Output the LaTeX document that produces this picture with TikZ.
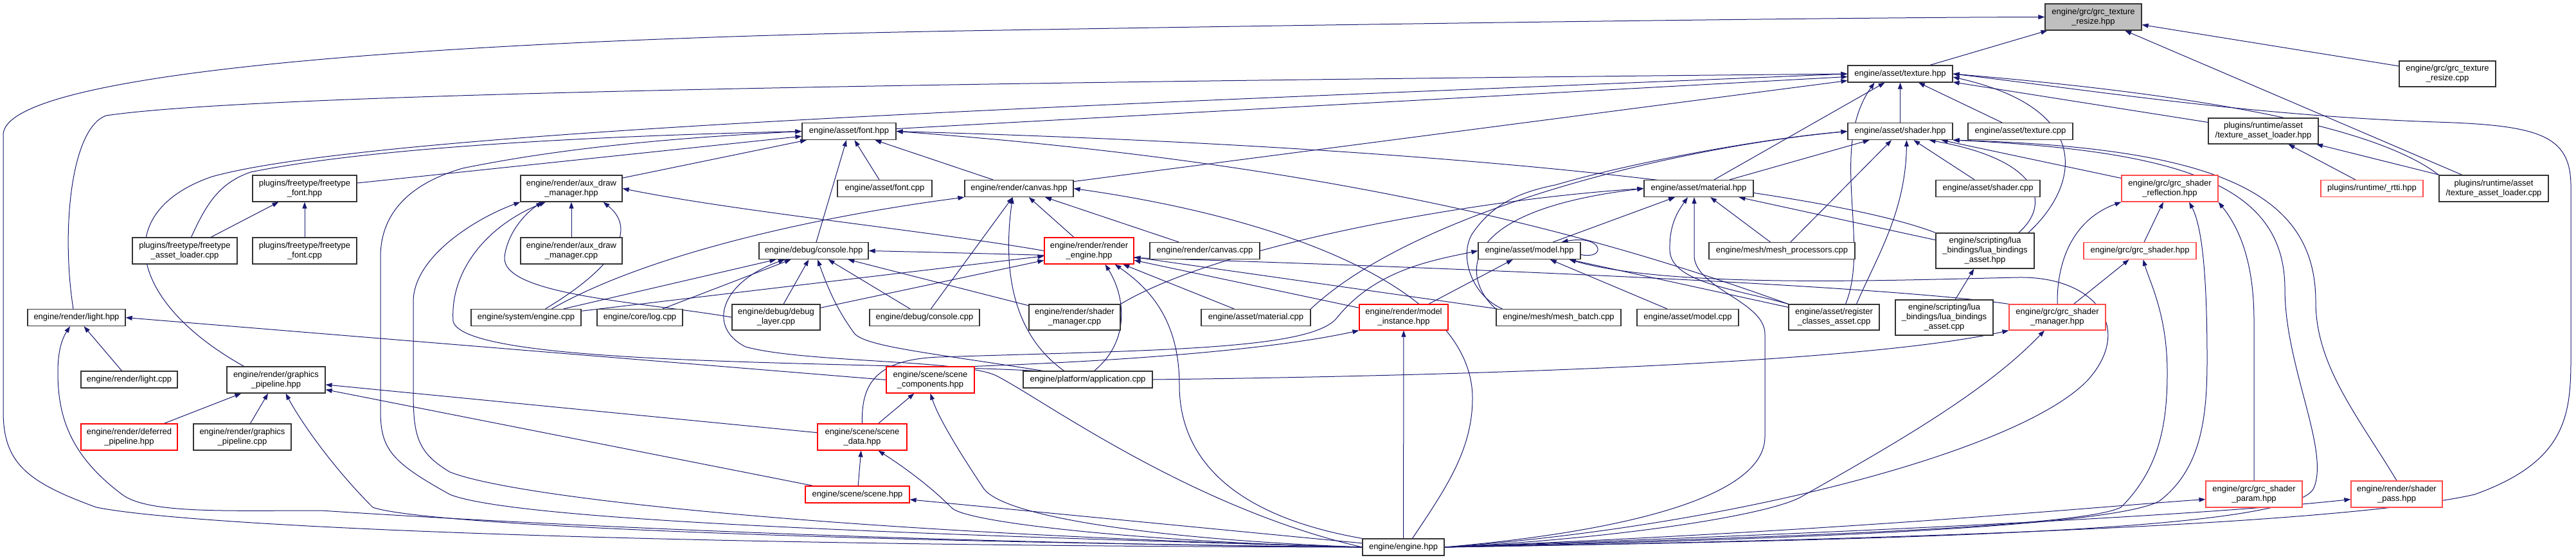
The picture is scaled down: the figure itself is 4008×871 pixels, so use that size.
\documentclass[tikz,border=0pt]{standalone}
\usepackage{fontspec}
\setmainfont{Liberation Sans}
\usepackage{xcolor}
\usepackage{tikz}
\usetikzlibrary{arrows.meta,backgrounds}
\definecolor{edgeblue}{HTML}{191970}
\definecolor{rootgray}{HTML}{BFBFBF}
\definecolor{hotred}{HTML}{FF0000}
\definecolor{softred}{HTML}{FF4A4A}
\begin{document}
\begin{tikzpicture}[
    x=1pt, y=-1pt,
    hdr/.style={draw=black!80, line width=1.2pt, fill=white, inner sep=0pt, align=center, minimum height=26pt, font=\fontsize{13}{15}\selectfont},
    hot/.style={hdr, draw=hotred},
    soft/.style={hdr, draw=softred},
    root/.style={hdr, fill=rootgray},
    dep/.style={draw=edgeblue, line width=1pt, -{Triangle[length=10pt,width=7pt]}}
]
\useasboundingbox (0,0) rectangle (4008,871);
% rows from top to bottom
\node[root, minimum width=150pt, minimum height=41pt] (resize) at (3257,26.5) {engine/grc/grc\_texture\\\_resize.hpp};
\node[hdr, minimum width=163pt] (texh) at (2956.5,115) {engine/asset/texture.hpp};
\node[hdr, minimum width=150pt, minimum height=40pt] (resizec) at (3808,115) {engine/grc/grc\_texture\\\_resize.cpp};
\node[hdr, minimum width=146pt] (fonth) at (1321,204.5) {engine/asset/font.hpp};
\node[hdr, minimum width=163pt] (shaderh) at (2956.5,204.5) {engine/asset/shader.hpp};
\node[hdr, minimum width=163pt] (texc) at (3143.5,204.5) {engine/asset/texture.cpp};
\node[hdr, minimum width=171pt, minimum height=40pt] (talh) at (3521.5,204) {plugins/runtime/asset\\/texture\_asset\_loader.hpp};
\node[hdr, minimum width=162pt, minimum height=41pt] (ftfonth) at (474,293.5) {plugins/freetype/freetype\\\_font.hpp};
\node[hdr, minimum width=158pt, minimum height=41pt] (auxh) at (889,293.5) {engine/render/aux\_draw\\\_manager.hpp};
\node[hdr, minimum width=147pt] (fontc) at (1376.5,293.5) {engine/asset/font.cpp};
\node[hdr, minimum width=169pt] (canvash) at (1585.5,293.5) {engine/render/canvas.hpp};
\node[hdr, minimum width=170pt] (materialh) at (2643,293.5) {engine/asset/material.hpp};
\node[hdr, minimum width=162pt] (shaderc) at (3093,293.5) {engine/asset/shader.cpp};
\node[soft, minimum width=150pt, minimum height=41pt] (reflh) at (3376,293.5) {engine/grc/grc\_shader\\\_reflection.hpp};
\node[soft, minimum width=159pt] (rttih) at (3690.5,293.5) {plugins/runtime/\_rtti.hpp};
\node[hdr, minimum width=170pt, minimum height=41pt] (talc) at (3880,293.5) {plugins/runtime/asset\\/texture\_asset\_loader.cpp};
\node[hdr, minimum width=163pt, minimum height=41pt] (ftloaderc) at (287.5,390.5) {plugins/freetype/freetype\\\_asset\_loader.cpp};
\node[hdr, minimum width=162pt, minimum height=41pt] (ftfontc) at (474,390.5) {plugins/freetype/freetype\\\_font.cpp};
\node[hdr, minimum width=158pt, minimum height=41pt] (auxc) at (889,390.5) {engine/render/aux\_draw\\\_manager.cpp};
\node[hdr, minimum width=170pt] (consoleh) at (1266,390.5) {engine/debug/console.hpp};
\node[hot, minimum width=139pt, minimum height=41pt] (renderh) at (1694.5,390.5) {engine/render/render\\\_engine.hpp};
\node[hdr, minimum width=171pt] (canvasc) at (1874.5,390.5) {engine/render/canvas.cpp};
\node[hdr, minimum width=159pt] (modelh) at (2379.5,390.5) {engine/asset/model.hpp};
\node[hdr, minimum width=227pt] (meshprocc) at (2772.5,390.5) {engine/mesh/mesh\_processors.cpp};
\node[hdr, minimum width=153pt, minimum height=55pt] (luah) at (3088.5,390.5) {engine/scripting/lua\\\_bindings/lua\_bindings\\\_asset.hpp};
\node[soft, minimum width=175pt] (grcshaderh) at (3329.5,390.5) {engine/grc/grc\_shader.hpp};
\node[hdr, minimum width=152pt] (lighth) at (119,494.5) {engine/render/light.hpp};
\node[hdr, minimum width=171pt] (enginec) at (818.5,494.5) {engine/system/engine.cpp};
\node[hdr, minimum width=133pt] (logc) at (995.5,494.5) {engine/core/log.cpp};
\node[hdr, minimum width=137pt, minimum height=40pt] (debugc) at (1207.5,494) {engine/debug/debug\\\_layer.cpp};
\node[hdr, minimum width=171pt] (consolec) at (1438.5,494.5) {engine/debug/console.cpp};
\node[hdr, minimum width=142pt, minimum height=40pt] (shmgrc) at (1672,494) {engine/render/shader\\\_manager.cpp};
\node[hdr, minimum width=170pt] (materialc) at (1954,494.5) {engine/asset/material.cpp};
\node[hot, minimum width=138pt, minimum height=40pt] (instanceh) at (2184,494) {engine/render/model\\\_instance.hpp};
\node[hdr, minimum width=194pt] (batchc) at (2425,494.5) {engine/mesh/mesh\_batch.cpp};
\node[hdr, minimum width=158pt] (modelc) at (2626,494.5) {engine/asset/model.cpp};
\node[hdr, minimum width=141pt, minimum height=40pt] (registerc) at (2853.5,494) {engine/asset/register\\\_classes\_asset.cpp};
\node[hdr, minimum width=152pt, minimum height=55pt] (luac) at (3025,494.5) {engine/scripting/lua\\\_bindings/lua\_bindings\\\_asset.cpp};
\node[soft, minimum width=150pt, minimum height=40pt] (grcmgrh) at (3201,494) {engine/grc/grc\_shader\\\_manager.hpp};
\node[hdr, minimum width=150pt] (lightc) at (201,591) {engine/render/light.cpp};
\node[hdr, minimum width=153pt, minimum height=41pt] (pipeh) at (429.5,591.5) {engine/render/graphics\\\_pipeline.hpp};
\node[hot, minimum width=137pt, minimum height=41pt] (componentsh) at (1447.5,591.5) {engine/scene/scene\\\_components.hpp};
\node[hdr, minimum width=201pt] (appc) at (1692.5,591) {engine/platform/application.cpp};
\node[hot, minimum width=150pt, minimum height=41pt] (deferredh) at (201,680.5) {engine/render/deferred\\\_pipeline.hpp};
\node[hdr, minimum width=152pt, minimum height=41pt] (pipec) at (377,680.5) {engine/render/graphics\\\_pipeline.cpp};
\node[hot, minimum width=139pt, minimum height=41pt] (scenedatah) at (1341.5,680.5) {engine/scene/scene\\\_data.hpp};
\node[hot, minimum width=162pt] (sceneh) at (1334,770) {engine/scene/scene.hpp};
\node[soft, minimum width=150pt, minimum height=41pt] (paramh) at (3507,769.5) {engine/grc/grc\_shader\\\_param.hpp};
\node[soft, minimum width=142pt, minimum height=41pt] (passh) at (3729,769.5) {engine/render/shader\\\_pass.hpp};
\node[hdr, minimum width=127pt] (engineh) at (2183.5,852) {engine/engine.hpp};
\begin{scope}[on background layer]
% root
\draw[dep] (texh) -- (resize);
\draw[dep] (resizec) -- (resize);
\draw[dep] (talc) -- (resize);
\draw[dep] (engineh.west) .. controls (1000,850) and (300,820) .. (150,790) .. controls (40,750) and (5,720) .. (5,640) -- (5,210) .. controls (5,110) and (700,62) .. (1500,48) .. controls (2200,36) and (2900,27) .. (resize.west);
% texture.hpp
\draw[dep] (shaderh) -- (texh);
\draw[dep] (texc) -- (texh);
\draw[dep] (talh) -- (texh);
\draw[dep] (fonth) -- (texh);
\draw[dep] (canvash) -- (texh);
\draw[dep] (materialh) -- (texh);
\draw[dep] (talc.north west) .. controls (3700,200) and (3450,150) .. (texh.east);
\draw[dep] ([xshift=18pt]registerc.north) .. controls (2910,380) and (2845,230) .. ([xshift=-40pt]texh.south);
\draw[dep] ([xshift=-10pt]luah.north east) .. controls (3235,290) and (3260,170) .. ([yshift=-5pt]texh.east);
\draw[dep] ([xshift=-5pt]lighth.north) .. controls (95,360) and (110,200) .. (165,180) .. controls (400,145) and (1500,128) .. (texh.west);
\draw[dep] ([xshift=-50pt]pipeh.north) .. controls (200,470) and (170,330) .. (330,275) .. controls (600,200) and (1800,160) .. (texh.west);
\draw[dep] (engineh.east) .. controls (3000,840) and (3650,815) .. (3850,770) .. controls (3990,720) and (4000,650) .. (4000,560) -- (4000,290) .. controls (4000,210) and (3950,195) .. (3790,190) .. controls (3500,180) and (3250,140) .. (texh.east);
\draw[dep] (talc) -- (talh);
\draw[dep] (rttih) -- (talh);
% font.hpp
\draw[dep] (ftfonth) -- (fonth);
\draw[dep] ([xshift=10pt]ftloaderc.north) .. controls (320,320) and (340,285) .. (390,268) .. controls (600,225) and (1000,210) .. (fonth.west);
\draw[dep] (auxh) -- (fonth);
\draw[dep] (fontc) -- (fonth);
\draw[dep] (canvash) -- (fonth);
\draw[dep] (consoleh) -- (fonth);
\draw[dep] (engineh.west) .. controls (1400,832) and (800,810) .. (700,770) .. controls (610,720) and (592,700) .. (592,640) -- (592,400) .. controls (592,330) and (640,285) .. (720,262) .. controls (900,225) and (1100,212) .. (fonth.west);
\draw[dep] (registerc.north west) .. controls (2550,390) and (2150,260) .. (fonth.east);
\draw[dep] (luah.north west) .. controls (2850,300) and (2300,230) .. (fonth.east);
\draw[dep] (ftloaderc) -- (ftfonth);
\draw[dep] (ftfontc) -- (ftfonth);
% aux_draw_manager.hpp
\draw[dep] (auxc) -- (auxh);
\draw[dep] ([xshift=30pt]enginec.north) .. controls (950,420) and (995,360) .. ([xshift=-30pt]auxh.south east);
\draw[dep] (debugc.west) .. controls (1000,470) and (780,460) .. (785,400) .. controls (790,360) and (820,330) .. ([xshift=-45pt]auxh.south);
\draw[dep] ([xshift=-80pt]appc.north) .. controls (1300,562) and (720,570) .. (705,500) .. controls (700,420) and (760,350) .. ([xshift=-40pt]auxh.south);
\draw[dep] (engineh.west) .. controls (1300,830) and (800,775) .. (700,735) .. controls (650,705) and (643,680) .. (643,610) -- (643,470) .. controls (643,400) and (740,340) .. (auxh.south west);
\draw[dep] (renderh.west) .. controls (1450,360) and (1150,330) .. (auxh.east);
% canvas.hpp
\draw[dep] ([xshift=40pt]enginec.north) .. controls (1000,400) and (1250,340) .. (canvash.south west);
\draw[dep] (consolec) -- (canvash);
\draw[dep] ([xshift=-37pt]appc.north) .. controls (1575,520) and (1560,420) .. ([xshift=-10pt]canvash.south);
\draw[dep] (renderh) -- (canvash);
\draw[dep] (canvasc) -- (canvash);
\draw[dep] ([xshift=14pt]engineh.north) .. controls (2250,760) and (2291,700) .. (2291,620) .. controls (2291,450) and (2000,340) .. (canvash.east);
% console.hpp
\draw[dep] (enginec) -- (consoleh);
\draw[dep] (logc) -- (consoleh);
\draw[dep] (debugc) -- (consoleh);
\draw[dep] (consolec) -- (consoleh);
\draw[dep] (shmgrc) -- (consoleh);
\draw[dep] ([xshift=-70pt]appc.north) .. controls (1450,550) and (1350,540) .. (1330,520) .. controls (1300,480) and (1285,440) .. ([xshift=6pt]consoleh.south);
\draw[dep] (engineh.west) .. controls (1850,790) and (1620,620) .. (1550,585) .. controls (1500,560) and (1250,565) .. (1160,540) .. controls (1100,510) and (1120,440) .. ([xshift=-45pt]consoleh.south);
\draw[dep] (grcmgrh.north west) .. controls (2900,440) and (2000,405) .. (consoleh.east);
% render_engine.hpp
\draw[dep] (enginec) -- (renderh);
\draw[dep] (debugc) -- (renderh);
\draw[dep] ([xshift=10pt]appc.north) .. controls (1760,530) and (1750,460) .. ([xshift=25pt]renderh.south);
\draw[dep] (engineh.north west) .. controls (1900,800) and (1835,700) .. (1835,600) .. controls (1835,500) and (1790,450) .. ([xshift=40pt]renderh.south);
\draw[dep] (materialc) -- (renderh);
\draw[dep] (instanceh) -- (renderh);
\draw[dep] (batchc) -- (renderh);
% model.hpp
\draw[dep] ([yshift=-6pt]modelh.east) .. controls (2500,405) and (2495,365) .. ([xshift=-30pt]modelh.north east);
\draw[dep] (modelc) -- (modelh);
\draw[dep] (registerc) -- (modelh);
\draw[dep] (instanceh) -- (modelh);
\draw[dep] (engineh.east) .. controls (2700,820) and (3150,700) .. (3250,590) .. controls (3320,510) and (3260,430) .. (3140,432) .. controls (2950,436) and (2600,450) .. ([xshift=-18pt]modelh.south east);
\draw[dep] (scenedatah.north) .. controls (1340,600) and (1360,560) .. (1460,556) .. controls (1800,545) and (2040,545) .. (2080,495) .. controls (2140,420) and (2230,405) .. (modelh.west);
% material.hpp
\draw[dep] (modelh) -- (materialh);
\draw[dep] (batchc.north west) .. controls (2280,440) and (2250,330) .. (materialh.west);
\draw[dep] (shmgrc.north east) .. controls (1900,380) and (2300,310) .. (materialh.west);
\draw[dep] (meshprocc) -- (materialh);
\draw[dep] (registerc.north west) .. controls (2700,450) and (2600,440) .. (2598,390) .. controls (2597,350) and (2610,330) .. ([xshift=-17pt]materialh.south);
\draw[dep] (luah) -- (materialh);
\draw[dep] (engineh.east) .. controls (2500,830) and (2746,780) .. (2746,680) -- (2746,520) .. controls (2746,470) and (2640,450) .. (2636,400) -- ([xshift=-7pt]materialh.south);
% shader.hpp
\draw[dep] (materialh) -- (shaderh);
\draw[dep] (meshprocc) -- (shaderh);
\draw[dep] ([xshift=35pt]registerc.north) .. controls (2920,400) and (2965,330) .. ([xshift=10pt]shaderh.south);
\draw[dep] (shaderc) -- (shaderh);
\draw[dep] ([xshift=-25pt]luah.north east) .. controls (3190,320) and (3180,250) .. ([xshift=45pt]shaderh.south);
\draw[dep] (reflh) -- (shaderh);
\draw[dep] (engineh.east) .. controls (3000,840) and (3570,825) .. (3600,760) .. controls (3625,700) and (3555,570) .. (3555,450) .. controls (3555,290) and (3400,235) .. (shaderh.south east);
\draw[dep] (passh.north) .. controls (3670,650) and (3603,570) .. (3603,470) .. controls (3603,300) and (3450,230) .. (shaderh.south east);
\draw[dep] (materialc.north east) .. controls (2200,330) and (2600,230) .. (shaderh.west);
\draw[dep] ([xshift=10pt]batchc.north west) .. controls (2290,460) and (2270,400) .. (2290,365) .. controls (2320,320) and (2360,300) .. (2420,288) .. controls (2550,250) and (2750,215) .. (shaderh.west);
\draw[dep] (luac) -- (luah);
% grc_shader_reflection.hpp
\draw[dep] (grcmgrh.north) .. controls (3200,400) and (3230,340) .. (reflh.south west);
\draw[dep] (grcshaderh) -- (reflh);
\draw[dep] (engineh.east) .. controls (2900,838) and (3300,815) .. (3360,780) .. controls (3425,730) and (3434,650) .. (3434,560) .. controls (3434,420) and (3425,350) .. ([xshift=30pt]reflh.south);
\draw[dep] (paramh.north) -- (3507,500) .. controls (3507,400) and (3480,350) .. (reflh.south east);
% grc_shader.hpp
\draw[dep] (grcmgrh) -- (grcshaderh);
\draw[dep] (engineh.east) .. controls (2800,836) and (3240,820) .. (3300,790) .. controls (3360,730) and (3372,660) .. (3372,580) .. controls (3372,490) and (3345,440) .. ([xshift=5pt]grcshaderh.south);
% grc_shader_manager.hpp
\draw[dep] (appc.east) .. controls (2300,585) and (2900,565) .. (grcmgrh.south west);
\draw[dep] (engineh.east) .. controls (2500,840) and (2740,805) .. (2800,775) .. controls (2950,690) and (3090,610) .. ([xshift=-20pt]grcmgrh.south);
% model_instance.hpp
\draw[dep] (componentsh.north east) .. controls (1800,560) and (2000,540) .. (instanceh.south west);
\draw[dep] (engineh) -- (instanceh);
% scene_components.hpp
\draw[dep] (scenedatah) -- (componentsh);
\draw[dep] (engineh.west) .. controls (1800,840) and (1560,805) .. (1530,760) .. controls (1490,700) and (1460,650) .. (componentsh.south);
% light.hpp
\draw[dep] (componentsh.west) -- (lighth.east);
\draw[dep] (lightc) -- (lighth);
\draw[dep] (engineh.west) .. controls (1300,845) and (650,805) .. (500,795) .. controls (350,795) and (230,800) .. (190,770) .. controls (110,710) and (90,650) .. (90,580) .. controls (90,550) and (95,530) .. ([xshift=-10pt]lighth.south);
% graphics_pipeline.hpp
\draw[dep] (deferredh) -- (pipeh);
\draw[dep] (pipec) -- (pipeh);
\draw[dep] (engineh.west) .. controls (1200,842) and (650,815) .. (580,790) .. controls (520,730) and (470,660) .. ([xshift=15pt]pipeh.south);
\draw[dep] (scenedatah) -- (pipeh);
\draw[dep] (sceneh) -- (pipeh);
% scene
\draw[dep] (sceneh) -- (scenedatah);
\draw[dep] (engineh.west) .. controls (1800,845) and (1500,815) .. (1480,790) .. controls (1440,750) and (1395,720) .. ([xshift=25pt]scenedatah.south);
\draw[dep] (engineh) -- (sceneh);
% shader param and pass
\draw[dep] (engineh.east) .. controls (2900,825) and (3250,790) .. ([yshift=-8pt]paramh.west);
\draw[dep] (engineh.east) .. controls (3000,825) and (3450,800) .. ([yshift=-8pt]passh.west);
\end{scope}
\end{tikzpicture}
\end{document}
